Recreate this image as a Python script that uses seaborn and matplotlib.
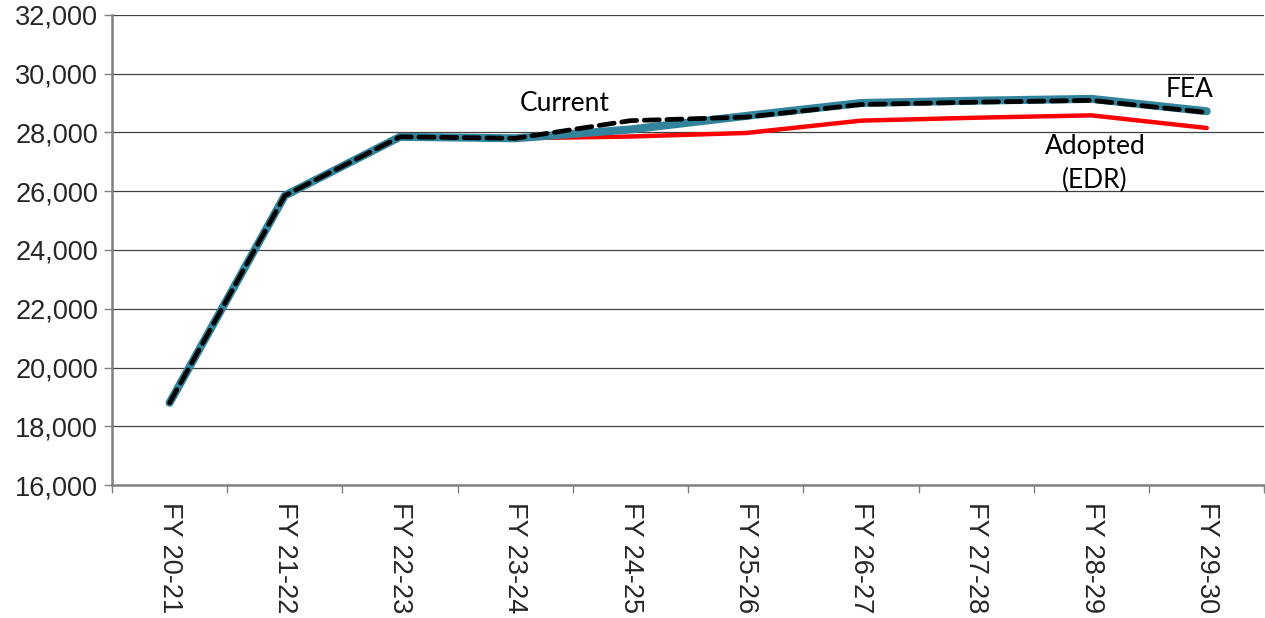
"""
Enrollment projection comparison: FEA vs Current vs Adopted (EDR)
"""
import numpy as np
import pandas as pd
import matplotlib
matplotlib.use("Agg")
import matplotlib.pyplot as plt
from matplotlib.ticker import FuncFormatter, FixedLocator
import seaborn as sns

# Data
years = ["FY 20-21", "FY 21-22", "FY 22-23", "FY 23-24", "FY 24-25",
         "FY 25-26", "FY 26-27", "FY 27-28", "FY 28-29", "FY 29-30"]
fea = [18800, 25850, 27850, 27800, 28100, 28560, 29000, 29080, 29140, 28720]
current = [18800, 25850, 27850, 27800, 28400, 28520, 28950, 29030, 29090, 28680]
adopted = [18800, 25850, 27850, 27800, 27860, 27980, 28400, 28500, 28580, 28150]

y_ticks = list(range(16000, 32001, 2000))

sns.set_style("white")
plt.rcParams['font.family'] = ['Liberation Sans', 'DejaVu Sans']

df = pd.DataFrame({"pos": np.arange(len(years)), "FEA": fea,
                   "Current": current, "Adopted": adopted})

fig = plt.figure(figsize=(12.65, 6.18), dpi=100)
ax = fig.add_axes([0.0885, 0.215, 0.911, 0.761])

# Grid lines drawn under the series
for v in y_ticks[1:]:
    ax.axhline(v, color="#404040", linewidth=0.9, zorder=0)

sns.lineplot(data=df, x="pos", y="Adopted", ax=ax, color="#FF0000",
             linewidth=3.2, zorder=2)
sns.lineplot(data=df, x="pos", y="FEA", ax=ax, color="#31849B",
             linewidth=5.8, zorder=3)
sns.lineplot(data=df, x="pos", y="Current", ax=ax, color="black",
             linewidth=3.4, linestyle=(0, (3.2, 1.6)), zorder=4,
             dash_capstyle="round")

ax.set_xlim(-0.5, len(years) - 0.5)
ax.set_ylim(16000, 32000)
ax.set_yticks(y_ticks)
ax.yaxis.set_major_formatter(FuncFormatter(lambda v, p: f"{int(v):,}"))
ax.set_xticks(np.arange(len(years)))
ax.set_xticklabels(years, rotation=-90, va="top", ha="center")
ax.xaxis.set_minor_locator(FixedLocator(np.arange(-0.5, len(years), 1.0)))
ax.tick_params(axis="x", which="major", length=0, labelsize=19.5, pad=12)
ax.tick_params(axis="x", which="minor", length=6, width=1, color="#808080",
               direction="out", bottom=True)
ax.tick_params(axis="y", which="major", length=6, width=1, color="#808080",
               direction="out", left=True, labelsize=19.5, pad=4)
ax.set_xlabel("")
ax.set_ylabel("")

for side in ["top", "right"]:
    ax.spines[side].set_visible(False)
for side in ["left", "bottom"]:
    ax.spines[side].set_color("#808080")
    ax.spines[side].set_linewidth(1.8)

# Series labels
lab_font = dict(family=["Lato", "DejaVu Sans"], fontsize=19, color="black",
                ha="center", va="center")
ax.text(3.43, 29000, "Current", **lab_font)
ax.text(8.85, 29450, "FEA", **lab_font)
ax.text(8.03, 26950, "Adopted\n(EDR)", linespacing=1.45, **lab_font)

fig.savefig("out.png", dpi=100)
plt.close(fig)
